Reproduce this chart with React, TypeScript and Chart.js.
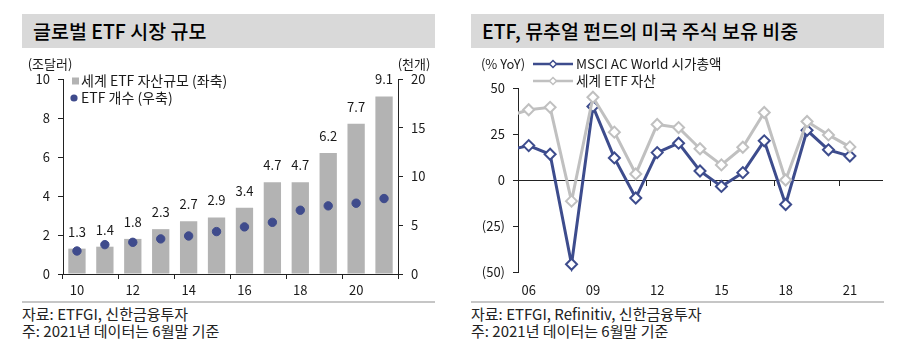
import React, { useEffect, useRef } from 'react';
import { Chart, registerables } from 'chart.js';

Chart.register(...registerables);

const FONT = "'Noto Sans CJK KR', 'Noto Sans', sans-serif";
const TEXT = '#1a1a1a';
const AXIS = '#222222';
const BAR_GRAY = '#b3b3b3';
const DOT_BLUE = '#3f4b8c';
const LINE_BLUE = '#3d4c8d';
const LINE_GRAY = '#c0c0c0';

// ---- Left chart: 글로벌 ETF 시장 규모 ----
const etfYears = ['10', '11', '12', '13', '14', '15', '16', '17', '18', '19', '20', '21'];
const etfAssets = [1.3, 1.4, 1.8, 2.3, 2.7, 2.9, 3.4, 4.7, 4.7, 6.2, 7.7, 9.1];
const etfCount = [2.36, 3.01, 3.25, 3.6, 3.9, 4.35, 4.83, 5.3, 6.54, 6.99, 7.26, 7.74];
const leftLegend = ['세계 ETF 자산규모 (좌축)', 'ETF 개수 (우축)'];

// ---- Right chart: ETF, 뮤추얼 펀드의 미국 주식 보유 비중 ----
const yoyYears = [2005, 2006, 2007, 2008, 2009, 2010, 2011, 2012, 2013, 2014, 2015, 2016, 2017, 2018, 2019, 2020, 2021];
const msciYoY = [16, 18.7, 14, -45.8, 40, 12, -9.8, 14.9, 20, 4.9, -3.5, 4, 21.3, -13.3, 27, 16.4, 13];
const etfYoY = [34.5, 38.2, 39.5, -11.5, 45, 26, 3.3, 30.2, 28.5, 17, 8.2, 17.8, 36.7, 0, 31.8, 24.5, 18];
const yoyLabelYears = [2006, 2009, 2012, 2015, 2018, 2021];
const yoyTickMarks = [2008.5, 2011.5, 2014.5, 2017.5, 2020.5];
const rightLegend = ['MSCI AC World 시가총액', '세계 ETF 자산'];

const tickFont = { family: FONT, size: 13 };

const leftDecor = {
  id: 'leftDecor',
  afterDatasetsDraw(chart: any) {
    const { ctx, chartArea } = chart;
    const meta = chart.getDatasetMeta(0);
    ctx.save();
    ctx.font = `13px ${FONT}`;
    ctx.fillStyle = TEXT;
    ctx.textAlign = 'center';
    ctx.textBaseline = 'middle';
    meta.data.forEach((bar: any, i: number) => {
      ctx.fillText(etfAssets[i].toFixed(1), bar.x, bar.y - 17);
    });
    ctx.fillText('(조달러)', chartArea.left - 13, chartArea.top - 15);
    ctx.fillText('(천개)', chartArea.right + 16, chartArea.top - 15);
    // legend
    const lx = chartArea.left;
    const r1 = chartArea.top + 2;
    const r2 = chartArea.top + 19;
    ctx.fillStyle = BAR_GRAY;
    ctx.fillRect(lx + 9, r1 - 3.5, 7, 7);
    ctx.fillStyle = DOT_BLUE;
    ctx.beginPath();
    ctx.arc(lx + 11, r2, 3.6, 0, Math.PI * 2);
    ctx.fill();
    ctx.font = `14px ${FONT}`;
    ctx.fillStyle = TEXT;
    ctx.textAlign = 'left';
    ctx.fillText(leftLegend[0], lx + 18, r1);
    ctx.fillText(leftLegend[1], lx + 18, r2);
    ctx.restore();
  },
};

function diamond(ctx: CanvasRenderingContext2D, x: number, y: number, r: number) {
  ctx.beginPath();
  ctx.moveTo(x - r, y);
  ctx.lineTo(x, y - r);
  ctx.lineTo(x + r, y);
  ctx.lineTo(x, y + r);
  ctx.closePath();
}

const rightDecor = {
  id: 'rightDecor',
  afterDraw(chart: any) {
    const { ctx, chartArea } = chart;
    ctx.save();
    ctx.font = `13px ${FONT}`;
    ctx.fillStyle = TEXT;
    ctx.textAlign = 'center';
    ctx.textBaseline = 'middle';
    ctx.fillText('(% YoY)', chartArea.left - 15, chartArea.top - 24);
    const rows = [
      { y: chartArea.top - 24, color: LINE_BLUE, text: rightLegend[0] },
      { y: chartArea.top - 7, color: LINE_GRAY, text: rightLegend[1] },
    ];
    ctx.font = `13.6px ${FONT}`;
    rows.forEach((r) => {
      const x0 = chartArea.left + 15;
      const x1 = chartArea.left + 55;
      ctx.strokeStyle = r.color;
      ctx.lineWidth = 2.5;
      ctx.beginPath();
      ctx.moveTo(x0, r.y);
      ctx.lineTo(x1, r.y);
      ctx.stroke();
      diamond(ctx, (x0 + x1) / 2, r.y, 3.5);
      ctx.fillStyle = '#ffffff';
      ctx.fill();
      ctx.lineWidth = 1.5;
      ctx.stroke();
      ctx.fillStyle = TEXT;
      ctx.textAlign = 'left';
      ctx.fillText(r.text, chartArea.left + 58, r.y);
    });
    ctx.restore();
  },
};

function LeftChart() {
  const ref = useRef<HTMLCanvasElement>(null);
  useEffect(() => {
    const chart = new Chart(ref.current as HTMLCanvasElement, {
      type: 'bar',
      data: {
        labels: etfYears,
        datasets: [
          {
            type: 'bar',
            label: leftLegend[0],
            data: etfAssets,
            backgroundColor: BAR_GRAY,
            yAxisID: 'y',
            barPercentage: 0.62,
            categoryPercentage: 1,
            order: 1,
          } as any,
          {
            type: 'line',
            label: leftLegend[1],
            data: etfCount,
            yAxisID: 'y2',
            showLine: false,
            pointRadius: 4.2,
            pointBorderWidth: 1,
            pointBackgroundColor: DOT_BLUE,
            pointBorderColor: DOT_BLUE,
            order: 0,
          } as any,
        ],
      },
      options: {
        responsive: false,
        animation: false,
        devicePixelRatio: 1,
        layout: { padding: { top: 29, left: 0, right: 0, bottom: 0 } },
        plugins: { legend: { display: false }, tooltip: { enabled: false } },
        scales: {
          x: {
            offset: true,
            grid: {
              offset: true,
              drawOnChartArea: false,
              tickLength: 5,
              color: (c: any) => (c.index === undefined || c.index % 2 === 0 ? AXIS : 'rgba(0,0,0,0)'),
            },
            border: { color: AXIS },
            ticks: {
              autoSkip: false,
              maxRotation: 0,
              padding: 3,
              font: tickFont,
              color: TEXT,
              callback: (_v: any, i: number) => (i % 2 === 0 ? etfYears[i] : ''),
            },
            afterFit: (s: any) => {
              s.height = 26;
            },
          },
          y: {
            position: 'left',
            min: 0,
            max: 10,
            ticks: { stepSize: 2, font: tickFont, color: TEXT, padding: 8 },
            grid: { drawOnChartArea: false, tickLength: 5, color: AXIS },
            border: { color: AXIS },
            afterFit: (s: any) => {
              s.width = 55;
            },
          },
          y2: {
            position: 'right',
            min: 0,
            max: 20,
            ticks: { stepSize: 5, font: tickFont, color: TEXT, padding: 8 },
            grid: { drawOnChartArea: false, tickLength: 5, color: AXIS },
            border: { color: AXIS },
            afterFit: (s: any) => {
              s.width = 50;
            },
          },
        },
      } as any,
      plugins: [leftDecor],
    });
    return () => chart.destroy();
  }, []);
  return (
    <canvas
      ref={ref}
      width={440}
      height={250}
      style={{ position: 'absolute', left: 0, top: 42, width: 440, height: 250 }}
    />
  );
}

function RightChart() {
  const ref = useRef<HTMLCanvasElement>(null);
  useEffect(() => {
    const pts = (vals: number[]) => yoyYears.map((x, i) => ({ x, y: vals[i] }));
    const chart = new Chart(ref.current as HTMLCanvasElement, {
      type: 'line',
      data: {
        datasets: [
          {
            label: rightLegend[0],
            data: pts(msciYoY),
            borderColor: LINE_BLUE,
            borderWidth: 3,
            pointStyle: 'rectRot',
            pointRadius: 5.5,
            pointBorderWidth: 2,
            pointBackgroundColor: '#ffffff',
            pointBorderColor: LINE_BLUE,
            order: 1,
          },
          {
            label: rightLegend[1],
            data: pts(etfYoY),
            borderColor: LINE_GRAY,
            borderWidth: 3,
            pointStyle: 'rectRot',
            pointRadius: 5.5,
            pointBorderWidth: 2,
            pointBackgroundColor: '#ffffff',
            pointBorderColor: LINE_GRAY,
            order: 0,
          },
        ],
      },
      options: {
        responsive: false,
        animation: false,
        devicePixelRatio: 1,
        layout: { padding: { top: 38, left: 0, right: 16, bottom: 0 } },
        plugins: { legend: { display: false }, tooltip: { enabled: false } },
        scales: {
          x: {
            type: 'linear',
            position: 'bottom',
            min: 2005.5,
            max: 2022.5,
            afterBuildTicks: (s: any) => {
              s.ticks = yoyLabelYears.map((v) => ({ value: v }));
            },
            ticks: {
              autoSkip: false,
              maxRotation: 0,
              padding: 10,
              font: tickFont,
              color: TEXT,
              callback: (v: any) => String(v).slice(2),
            },
            grid: { display: false, drawTicks: false },
            border: { display: false },
            afterFit: (s: any) => {
              s.height = 28;
            },
          },
          x2: {
            type: 'linear',
            position: { y: 0 },
            min: 2005.5,
            max: 2022.5,
            afterBuildTicks: (s: any) => {
              s.ticks = yoyTickMarks.map((v) => ({ value: v }));
            },
            ticks: { display: false },
            grid: { drawOnChartArea: false, tickLength: 5, color: AXIS },
            border: { color: AXIS, width: 1 },
          },
          y: {
            min: -50,
            max: 50,
            ticks: {
              stepSize: 25,
              font: tickFont,
              color: TEXT,
              padding: 8,
              callback: (v: any) => (v < 0 ? `(${-v})` : `${v}`),
            },
            grid: { drawOnChartArea: false, tickLength: 5, color: AXIS },
            border: { color: AXIS },
            afterFit: (s: any) => {
              s.width = 60;
            },
          },
        },
      } as any,
      plugins: [rightDecor],
    });
    return () => chart.destroy();
  }, []);
  return (
    <canvas
      ref={ref}
      width={440}
      height={250}
      style={{ position: 'absolute', left: 450, top: 42, width: 440, height: 250 }}
    />
  );
}

const headerStyle = (left: number): React.CSSProperties => ({
  position: 'absolute',
  left,
  top: 6,
  width: 413,
  height: 34,
  background: '#d9d9d9',
  boxSizing: 'border-box',
  paddingLeft: 11,
  fontSize: 19.5,
  fontWeight: 500,
  lineHeight: '34px',
  color: '#000',
  whiteSpace: 'nowrap',
});

const sepStyle = (left: number): React.CSSProperties => ({
  position: 'absolute',
  left,
  top: 293,
  width: 413,
  height: 2,
  background: '#c6c6c6',
});

const footStyle = (left: number): React.CSSProperties => ({
  position: 'absolute',
  left,
  top: 297,
  fontSize: 15,
  lineHeight: '17px',
  color: '#222',
  whiteSpace: 'nowrap',
});

export default function App() {
  return (
    <div style={{ position: 'relative', width: 891, height: 340, fontFamily: FONT, background: '#fff' }}>
      <div style={headerStyle(14)}>글로벌 ETF 시장 규모</div>
      <div style={headerStyle(463)}>ETF, 뮤추얼 펀드의 미국 주식 보유 비중</div>
      <LeftChart />
      <RightChart />
      <div style={sepStyle(14)} />
      <div style={sepStyle(463)} />
      <div style={footStyle(14)}>
        <div>자료: ETFGI, 신한금융투자</div>
        <div>주: 2021년 데이터는 6월말 기준</div>
      </div>
      <div style={footStyle(463)}>
        <div>자료: ETFGI, Refinitiv, 신한금융투자</div>
        <div>주: 2021년 데이터는 6월말 기준</div>
      </div>
    </div>
  );
}
